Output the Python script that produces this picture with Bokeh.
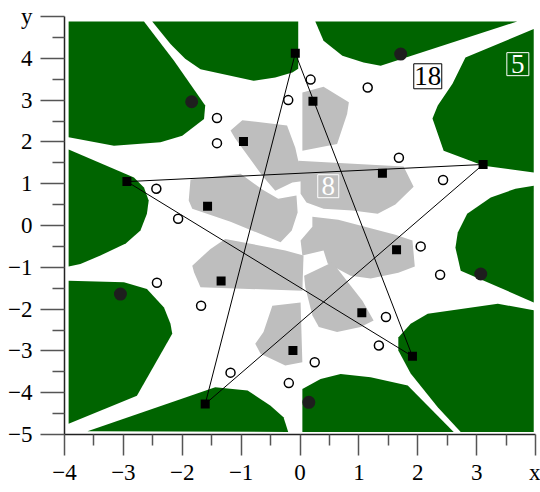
from bokeh.plotting import figure
from bokeh.models import FixedTicker, ColumnDataSource
from bokeh.core.properties import value
from bokeh.embed import file_html
from bokeh.resources import INLINE

FONT = "Liberation Serif"

# ---- data ----
# pentagram (outer squares) in drawing order
star_x = [-0.08, 1.91, -2.94, 3.11, -1.61, -0.08]
star_y = [4.12, -3.13, 1.05, 1.46, -4.27, 4.12]

inner_x = [0.22, -0.96, 1.40, -1.57, 1.64, -1.34, 1.05, -0.12]
inner_y = [2.97, 2.01, 1.25, 0.46, -0.58, -1.33, -2.09, -2.99]

filled_x = [-1.84, 1.71, 3.07, 0.15, -3.05]
filled_y = [2.96, 4.10, -1.16, -4.23, -1.64]

open_x = [-1.41, -1.41, -0.20, 0.18, 1.15, 1.68, 2.43, -2.44, -2.07,
          2.05, 2.38, -2.43, -1.68, 1.46, 1.34, -1.18, 0.25, -0.19]
open_y = [2.57, 1.97, 3.00, 3.49, 3.30, 1.62, 1.09, 0.88, 0.16,
          -0.50, -1.18, -1.37, -1.92, -2.19, -2.87, -3.52, -3.27, -3.77]

# green cells
green_tl_x = [-3.93, -2.65, -2.14, -1.61, -1.63, -2.00, -2.37, -3.16, -3.93]
green_tl_y = [4.88, 4.88, 3.94, 2.87, 2.55, 2.15, 1.99, 1.91, 2.11]
green_tm_x = [-2.51, -2.20, -1.95, -1.69, -0.79, -0.42, -0.13, -0.03, -0.03]
green_tm_y = [4.88, 4.34, 3.99, 3.74, 3.46, 3.54, 3.66, 3.75, 4.88]
green_tr_x = [0.26, 0.40, 0.72, 1.08, 1.37, 3.69]
green_tr_y = [4.88, 4.42, 4.06, 3.90, 3.82, 4.88]
green_rt_x = [2.81, 3.97, 3.97, 3.12, 2.44, 2.25, 2.34, 2.59]
green_rt_y = [4.02, 4.70, 1.27, 1.43, 1.79, 2.56, 2.87, 3.39]
green_rm_x = [3.97, 3.97, 2.73, 2.64, 2.68, 2.84, 3.24, 3.66]
green_rm_y = [0.95, -1.84, -1.08, -0.53, -0.17, 0.28, 0.67, 0.88]
green_br_x = [1.67, 1.88, 2.17, 3.36, 3.97, 3.97, 2.73, 2.34, 1.88, 1.67]
green_br_y = [-2.68, -2.35, -2.11, -1.87, -2.03, -4.94, -4.94, -4.35, -3.54, -2.99]
green_bm_x = [0.04, 0.35, 0.69, 1.20, 1.83, 2.61, 0.04]
green_bm_y = [-3.91, -3.67, -3.55, -3.63, -3.83, -4.94, -4.94]
green_bl_x = [-3.61, -1.44, -0.89, -0.50, -0.28, -0.20]
green_bl_y = [-4.92, -3.87, -3.95, -4.31, -4.59, -4.94]
green_lb_x = [-3.93, -2.99, -2.60, -2.31, -2.20, -2.17, -2.77, -3.93]
green_lb_y = [-1.32, -1.36, -1.52, -1.96, -2.35, -2.59, -4.07, -4.74]
green_lm_x = [-3.93, -2.82, -2.65, -2.57, -2.60, -2.71, -2.96, -3.39, -3.73, -3.93]
green_lm_y = [1.82, 1.15, 0.91, 0.60, 0.28, -0.12, -0.43, -0.72, -0.92, -0.98]

# gray cells
gray_t_x = [0.04, 0.40, 0.83, 0.80, 0.63, 0.04]
gray_t_y = [3.18, 3.32, 2.95, 2.67, 1.95, 1.79]
gray_ul_x = [-1.18, -0.98, -0.22, -0.08, -0.03, 0.09, 0.09, -0.13, -0.42, -0.64, -1.10]
gray_ul_y = [2.27, 2.52, 2.39, 1.86, 1.55, 1.26, 1.07, 1.03, 0.83, 1.19, 2.08]
gray_r_x = [-0.03, 1.76, 1.93, 1.62, 1.32, 0.89, 0.40, 0.11, 0.01, 0.01]
gray_r_y = [1.55, 1.41, 0.93, 0.50, 0.28, 0.36, 0.40, 0.55, 0.76, 1.15]
gray_l_x = [-1.86, -1.01, -0.64, -0.37, -0.06, -0.04, -0.14, -0.33, -1.18, -1.83, -1.89]
gray_l_y = [1.10, 1.24, 0.86, 0.64, 0.72, 0.31, -0.12, -0.40, 0.09, 0.40, 0.60]
gray_lr_x = [0.01, 0.21, 0.21, 0.65, 1.62, 1.91, 1.95, 1.67, 1.20, 0.86, 0.47, 0.40, 0.04]
gray_lr_y = [-0.36, -0.03, 0.21, 0.14, -0.22, -0.36, -0.98, -1.13, -1.27, -1.20, -0.91, -0.60, -0.72]
gray_ll_x = [-1.83, -1.52, -1.27, -0.25, 0.06, 0.04, -1.69, -1.80]
gray_ll_y = [-0.96, -0.56, -0.32, -0.60, -0.72, -1.56, -1.48, -1.12]
gray_mr_x = [0.07, 0.55, 1.06, 1.25, 1.03, 0.63, 0.32, 0.21, 0.09]
gray_mr_y = [-1.20, -0.88, -1.80, -2.27, -2.43, -2.55, -2.43, -2.15, -1.48]
gray_b_x = [-0.47, 0.01, 0.04, -0.25, -0.67, -0.76, -0.62]
gray_b_y = [-1.92, -1.84, -3.27, -3.35, -3.07, -2.83, -2.55]

# boxed count labels
box_x = [2.17, 3.70, 0.48]
box_y = [3.57, 3.86, 0.94]
box_text = ["18", "5", "8"]

x_ticks = [-4, -3, -2, -1, 0, 1, 2, 3, 4]
y_ticks = [-5, -4, -3, -2, -1, 0, 1, 2, 3, 4, 5]

# ---- figure ----
p = figure(width=540, height=492, x_range=(-4, 4), y_range=(-5, 5),
           output_backend="svg", toolbar_location=None,
           min_border_left=64, min_border_right=5, min_border_top=16,
           min_border_bottom=58)
p.grid.visible = False
p.outline_line_color = None
p.background_fill_color = "white"
p.border_fill_color = "white"

green_xs = [green_tl_x, green_tm_x, green_tr_x, green_rt_x, green_rm_x,
            green_br_x, green_bm_x, green_bl_x, green_lb_x, green_lm_x]
green_ys = [green_tl_y, green_tm_y, green_tr_y, green_rt_y, green_rm_y,
            green_br_y, green_bm_y, green_bl_y, green_lb_y, green_lm_y]
p.patches(xs=green_xs, ys=green_ys, fill_color="#006400", line_color=None)

gray_xs = [gray_t_x, gray_ul_x, gray_r_x, gray_l_x, gray_lr_x, gray_ll_x, gray_mr_x, gray_b_x]
gray_ys = [gray_t_y, gray_ul_y, gray_r_y, gray_l_y, gray_lr_y, gray_ll_y, gray_mr_y, gray_b_y]
p.patches(xs=gray_xs, ys=gray_ys, fill_color="#bebebe", line_color=None)

p.line(star_x, star_y, line_color="black", line_width=1)

p.scatter(filled_x, filled_y, marker="circle", size=13, fill_color="#1e1e1e", line_color=None)
p.scatter(open_x, open_y, marker="circle", size=9, fill_color="white",
          line_color="black", line_width=1.5)
p.scatter(star_x[:-1], star_y[:-1], marker="square", size=9, fill_color="black", line_color=None)
p.scatter(inner_x, inner_y, marker="square", size=9, fill_color="black", line_color=None)

box_src = ColumnDataSource(dict(x=box_x, y=box_y, text=box_text,
                                w=[28, 22, 21], h=[25, 23, 23],
                                fa=[1.0, 0.0, 0.0],
                                lc=["black", "white", "white"],
                                tc=["black", "white", "white"]))
p.rect(x="x", y="y", width="w", height="h", width_units="screen", height_units="screen",
       fill_color="white", fill_alpha="fa", line_color="lc", line_width=1, source=box_src)
p.text(x="x", y="y", text="text", text_color="tc", text_font=value(FONT),
       text_font_size="27px", text_align="center", text_baseline="middle", source=box_src)

# axes (axis letters sit at the last tick position of each axis)
minus = "\u2212"
for ax, ticks, minors, last, letter in [
        (p.xaxis[0], x_ticks, [t + 0.5 for t in x_ticks[:-1]], 4, "x"),
        (p.yaxis[0], y_ticks, [t + 0.5 for t in y_ticks[:-1]], 5, "y")]:
    ax.ticker = FixedTicker(ticks=ticks, minor_ticks=minors)
    ax.major_label_overrides = {t: (letter if t == last else str(t).replace("-", minus)) for t in ticks}
    ax.axis_line_color = "#222222"
    ax.axis_line_width = 1.5
    ax.major_tick_line_color = "#555555"
    ax.minor_tick_line_color = "#555555"
    ax.major_tick_line_width = 1.5
    ax.minor_tick_line_width = 1.5
    ax.major_tick_in = 0
    ax.minor_tick_in = 0
    ax.major_label_text_font = FONT
    ax.major_label_text_font_size = "23px"
    ax.major_label_text_color = "black"

p.xaxis.major_tick_out = 21
p.xaxis.minor_tick_out = 11
p.xaxis.major_label_standoff = 4
p.yaxis.major_tick_out = 24
p.yaxis.minor_tick_out = 12
p.yaxis.major_label_standoff = 8

open("out.html", "w").write(file_html(p, INLINE))
